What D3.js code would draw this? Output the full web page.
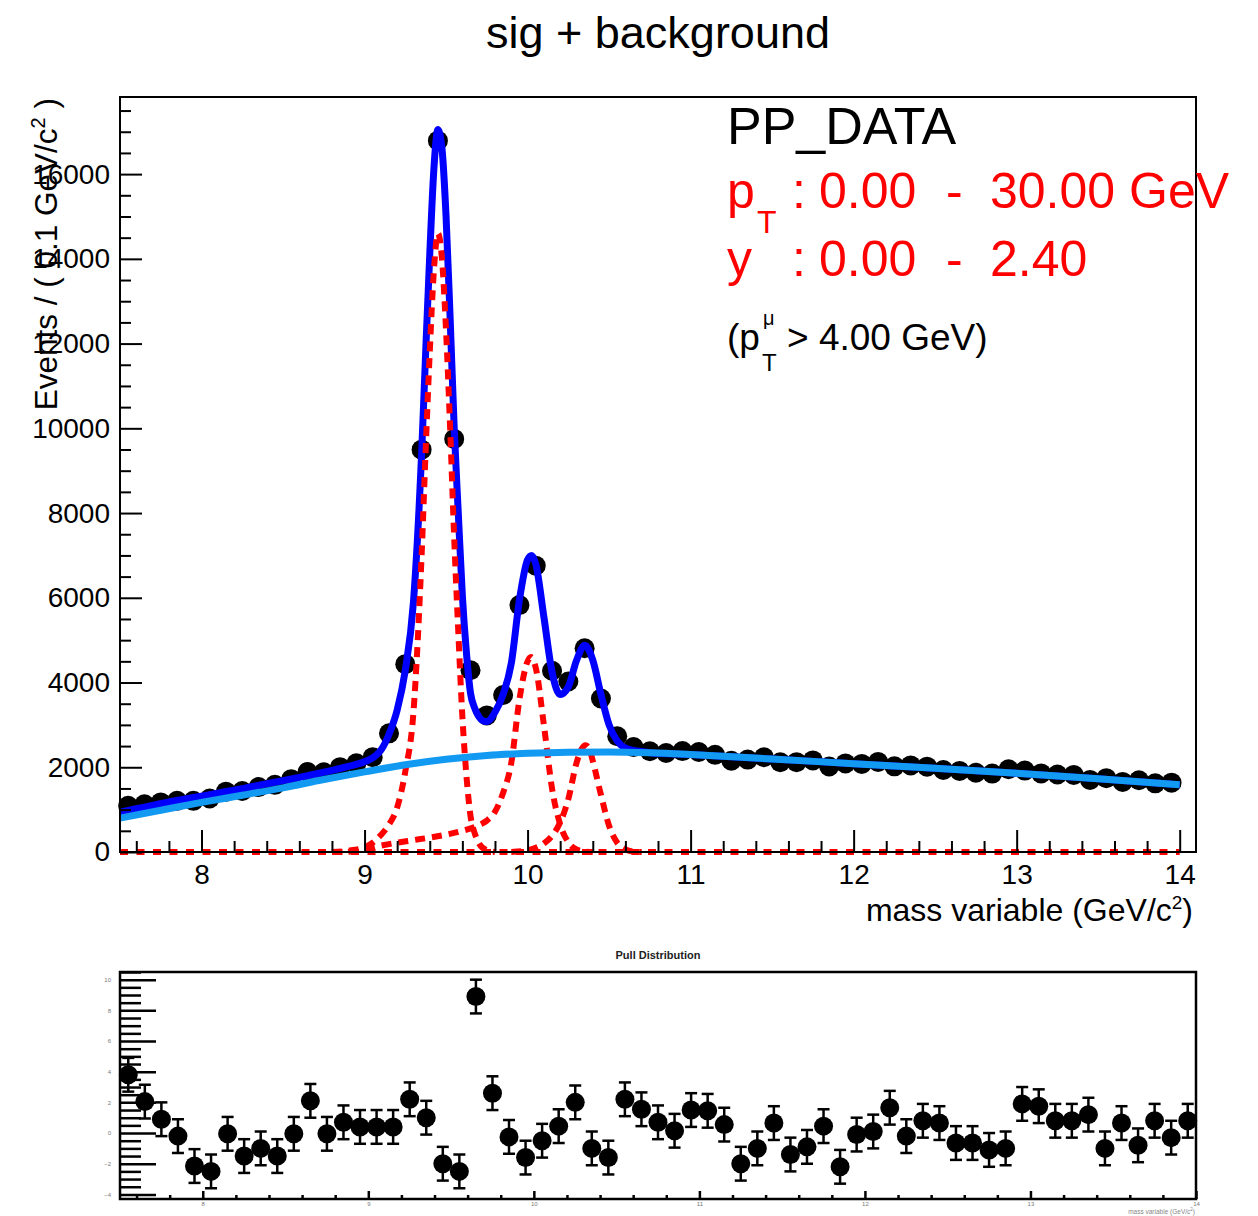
<!DOCTYPE html>
<html>
<head>
<meta charset="utf-8">
<script src="https://cdnjs.cloudflare.com/ajax/libs/d3/7.8.5/d3.min.js"></script>
<style>
  html, body { margin: 0; padding: 0; background: #fff; }
  svg { display: block; font-family: "Liberation Sans", Arial, Helvetica, sans-serif; }
</style>
</head>
<body>
<svg id="chart" width="1258" height="1216"></svg>
<script>
// ---- binned data: bin centres (GeV/c^2), event counts, fit pulls ----
const binCenters = [
  7.55, 7.65, 7.75, 7.85, 7.95, 8.05, 8.15, 8.25, 8.35, 8.45,
  8.55, 8.65, 8.75, 8.85, 8.95, 9.05, 9.15, 9.25, 9.35, 9.45,
  9.55, 9.65, 9.75, 9.85, 9.95, 10.05, 10.15, 10.25, 10.35, 10.45,
  10.55, 10.65, 10.75, 10.85, 10.95, 11.05, 11.15, 11.25, 11.35, 11.45,
  11.55, 11.65, 11.75, 11.85, 11.95, 12.05, 12.15, 12.25, 12.35, 12.45,
  12.55, 12.65, 12.75, 12.85, 12.95, 13.05, 13.15, 13.25, 13.35, 13.45,
  13.55, 13.65, 13.75, 13.85, 13.95
];
const eventCounts = [
  1090, 1127, 1170, 1208, 1208, 1263, 1424, 1439, 1532, 1586,
  1720, 1889, 1880, 2003, 2093, 2239, 2801, 4434, 9497, 16790,
  9750, 4290, 3224, 3705, 5827, 6759, 4279, 4025, 4810, 3622,
  2733, 2476, 2379, 2337, 2382, 2359, 2294, 2155, 2181, 2237,
  2119, 2120, 2161, 2017, 2091, 2079, 2127, 2021, 2044, 2015,
  1935, 1912, 1870, 1851, 1954, 1922, 1855, 1829, 1819, 1701,
  1743, 1655, 1693, 1620, 1636
];
const pulls = [
  3.8, 2.05, 0.9, -0.2, -2.15, -2.5, -0.05, -1.5, -1.0, -1.5,
  -0.05, 2.1, -0.05, 0.7, 0.4, 0.4, 0.4, 2.2, 1.0, -2.0,
  -2.5, 8.9, 2.6, -0.25, -1.6, -0.5, 0.45, 2.0, -1.0, -1.6,
  2.2, 1.55, 0.7, 0.15, 1.5, 1.45, 0.55, -2.0, -1.0, 0.65,
  -1.4, -0.9, 0.45, -2.2, -0.1, 0.1, 1.65, -0.2, 0.8, 0.65,
  -0.65, -0.65, -1.1, -1.0, 1.9, 1.75, 0.8, 0.8, 1.2, -1.0,
  0.65, -0.8, 0.8, -0.3, 0.8
];

// ---- fitted model curves (mass knots, events per bin) ----
const totalFitMass = [
  7.5, 7.6, 7.7, 7.8, 7.9, 8.0, 8.1, 8.2, 8.3, 8.4, 8.5, 8.6, 8.7, 8.8, 8.9,
  9.0, 9.05, 9.1, 9.15, 9.2, 9.25, 9.3, 9.35, 9.375, 9.4, 9.425, 9.45, 9.475,
  9.5, 9.525, 9.55, 9.575, 9.6, 9.625, 9.65, 9.675, 9.7, 9.725, 9.75, 9.8,
  9.85, 9.9, 9.95, 10.0, 10.025, 10.05, 10.1, 10.15, 10.2, 10.25, 10.3, 10.35,
  10.4, 10.45, 10.5, 10.55, 10.6, 10.65, 10.7, 10.75, 11.0, 11.5, 12.0, 12.5,
  13.0, 13.5, 14.0
];
const totalFitValue = [
  940, 1020, 1100, 1180, 1250, 1320, 1390, 1460, 1535, 1610, 1685, 1760, 1840, 1925, 2020,
  2130, 2220, 2400, 2780, 3350, 4290, 5900, 9400, 11800, 14100, 16100, 17050, 16600,
  15000, 12600, 10000, 8000, 6050, 4700, 3750, 3400, 3200, 3100, 3080, 3300,
  3720, 4450, 5950, 6900, 7000, 6800, 5550, 4250, 3720, 3900, 4520, 4880,
  4530, 3720, 3000, 2620, 2450, 2400, 2370, 2345, 2300, 2195, 2085, 1975,
  1860, 1730, 1590
];
const backgroundMass = [
  7.5, 7.75, 8.0, 8.25, 8.5, 8.75, 9.0, 9.25, 9.5, 9.75, 10.0, 10.25, 10.5,
  10.75, 11.0, 11.5, 12.0, 12.5, 13.0, 13.5, 14.0
];
const backgroundValue = [
  800, 985, 1170, 1340, 1515, 1710, 1890, 2060, 2190, 2280, 2330, 2355, 2360,
  2340, 2300, 2195, 2085, 1975, 1860, 1730, 1590
];
// signal shapes, over the mass span where each one is above zero
const ups1sMass = [
  8.8, 8.9, 9.0, 9.05, 9.1, 9.15, 9.2, 9.25, 9.3, 9.35, 9.375, 9.4, 9.425,
  9.45, 9.475, 9.5, 9.525, 9.55, 9.575, 9.6, 9.625, 9.65, 9.675, 9.7, 9.75, 9.8
];
const ups1sValue = [
  0, 30, 110, 220, 400, 650, 1050, 1900, 3300, 7000, 9500, 11800, 13700,
  14600, 14000, 12300, 10000, 7400, 5200, 3200, 1800, 850, 450, 220, 40, 0
];
const ups2sMass = [
  8.9, 9.0, 9.1, 9.2, 9.3, 9.4, 9.5, 9.6, 9.7, 9.75, 9.8, 9.85, 9.9, 9.95,
  10.0, 10.02, 10.05, 10.1, 10.15, 10.2, 10.25, 10.3, 10.35, 10.4
];
const ups2sValue = [
  0, 70, 150, 220, 280, 340, 410, 500, 630, 740, 950, 1400, 2100, 3600,
  4500, 4600, 4350, 3000, 1500, 650, 230, 60, 10, 0
];
const ups3sMass = [
  9.9, 10.0, 10.05, 10.1, 10.15, 10.2, 10.25, 10.3, 10.33, 10.355, 10.38,
  10.4, 10.45, 10.5, 10.55, 10.6, 10.65, 10.7
];
const ups3sValue = [
  0, 40, 100, 200, 380, 700, 1250, 2100, 2420, 2520, 2420,
  2150, 1350, 620, 220, 60, 10, 0
];
// where all signal shapes sit at zero
const signalFloorMass = [7.5, 14.0];
const signalFloorValue = [0, 0];

// ---- axis ticks ----
const massTicks = [8, 9, 10, 11, 12, 13, 14];
const eventTicks = [0, 2000, 4000, 6000, 8000, 10000, 12000, 14000, 16000];
const pullTicks = [-4, -2, 0, 2, 4, 6, 8, 10];

const FONT = '"Liberation Sans", Arial, Helvetica, sans-serif';
const svg = d3.select("#chart");

// ---- scales ----
const x = d3.scaleLinear().domain([7.5, 14.1]).range([120, 1196]);
const y = d3.scaleLinear().domain([0, 17820]).range([852, 97]);
const xp = d3.scaleLinear().domain([7.5, 14.0]).range([120, 1196]);
const yp = d3.scaleLinear().domain([-4.3, 10.5]).range([1199, 972]);

// title
svg.append("text")
  .attr("x", 658).attr("y", 48)
  .attr("text-anchor", "middle")
  .attr("font-size", 45)
  .text("sig + background");

// ================= main panel =================
const main = svg.append("g");

// data points (drawn first, curves go on top)
const pts = main.append("g");
binCenters.forEach((m, i) => {
  const n = eventCounts[i];
  const e = Math.sqrt(n);
  pts.append("line")
    .attr("x1", x(m)).attr("x2", x(m))
    .attr("y1", y(n - e)).attr("y2", y(n + e))
    .attr("stroke", "#000").attr("stroke-width", 2);
  pts.append("line")
    .attr("x1", x(m - 0.05)).attr("x2", x(m + 0.05))
    .attr("y1", y(n)).attr("y2", y(n))
    .attr("stroke", "#000").attr("stroke-width", 2);
  pts.append("circle")
    .attr("cx", x(m)).attr("cy", y(n)).attr("r", 10)
    .attr("fill", "#000");
});

function curve(ms, vs) {
  return d3.line()
    .x((d, i) => x(ms[i]))
    .y(d => y(d))
    .curve(d3.curveMonotoneX)(vs);
}

// total fit
main.append("path")
  .attr("d", curve(totalFitMass, totalFitValue))
  .attr("fill", "none").attr("stroke", "#0000ff")
  .attr("stroke-width", 7).attr("stroke-linejoin", "round");

// signal components
main.append("path")
  .attr("d", curve(signalFloorMass, signalFloorValue))
  .attr("fill", "none").attr("stroke", "#ff0000")
  .attr("stroke-width", 6).attr("stroke-dasharray", "8,8.5");
[[ups1sMass, ups1sValue], [ups2sMass, ups2sValue], [ups3sMass, ups3sValue]].forEach(([ms, vs]) => {
  main.append("path")
    .attr("d", curve(ms, vs))
    .attr("fill", "none").attr("stroke", "#ff0000")
    .attr("stroke-width", 6).attr("stroke-dasharray", "10,7");
});

// background
main.append("path")
  .attr("d", curve(backgroundMass, backgroundValue))
  .attr("fill", "none").attr("stroke", "#1299f2")
  .attr("stroke-width", 7).attr("stroke-linejoin", "round");

// frame
main.append("rect")
  .attr("x", 120).attr("y", 97).attr("width", 1076).attr("height", 755)
  .attr("fill", "none").attr("stroke", "#000").attr("stroke-width", 2);

// x axis
const xMinor = d3.range(38, 71).map(k => k / 5).filter(v => v >= 7.5 && v <= 14.1 && !massTicks.includes(v));
main.append("g").attr("transform", "translate(0,852)")
  .call(d3.axisBottom(x).tickValues(xMinor).tickSize(-11).tickFormat(""))
  .call(g => g.select(".domain").remove());
const xAx = main.append("g").attr("transform", "translate(0,852)")
  .call(d3.axisBottom(x).tickValues(massTicks).tickSize(-22).tickPadding(12).tickFormat(d3.format("d")));
xAx.select(".domain").remove();
xAx.selectAll("text").attr("font-size", 28).attr("font-family", FONT).attr("fill", "#000");
main.selectAll(".tick line").attr("stroke", "#000").attr("stroke-width", 2);

// y axis
const yMinor = d3.range(0, 17820, 500).filter(v => v % 2000 !== 0);
main.append("g").attr("transform", "translate(120,0)")
  .call(d3.axisLeft(y).tickValues(yMinor).tickSize(-11).tickFormat(""))
  .call(g => g.select(".domain").remove());
const yAx = main.append("g").attr("transform", "translate(120,0)")
  .call(d3.axisLeft(y).tickValues(eventTicks).tickSize(-22).tickPadding(10).tickFormat(d3.format("d")));
yAx.select(".domain").remove();
yAx.selectAll("text").attr("font-size", 28).attr("font-family", FONT).attr("fill", "#000");
main.selectAll(".tick line").attr("stroke", "#000").attr("stroke-width", 2);

// axis titles
const xt = main.append("text")
  .attr("x", 1193).attr("y", 921).attr("text-anchor", "end")
  .attr("font-size", 32);
xt.append("tspan").text("mass variable (GeV/c");
xt.append("tspan").attr("dy", -12).attr("font-size", 19).text("2");
xt.append("tspan").attr("dy", 12).text(")");

const yt = main.append("text")
  .attr("transform", "translate(57,98) rotate(-90)")
  .attr("text-anchor", "end")
  .attr("font-size", 31.5);
yt.append("tspan").text("Events / ( 0.1 GeV/c");
yt.append("tspan").attr("dy", -12).attr("font-size", 20).text("2");
yt.append("tspan").attr("dy", 12).text(" )");

// labels in the frame
main.append("text").attr("x", 727).attr("y", 144).attr("font-size", 52).text("PP_DATA");

const l1 = main.append("g").attr("fill", "#ff0000").attr("font-size", 50);
l1.append("text").attr("x", 727).attr("y", 208).text("p");
l1.append("text").attr("x", 757).attr("y", 233).attr("font-size", 32).text("T");
l1.append("text").attr("x", 792).attr("y", 208).text(":");
l1.append("text").attr("x", 819).attr("y", 208).text("0.00");
l1.append("text").attr("x", 946).attr("y", 208).text("-");
l1.append("text").attr("x", 990).attr("y", 208).text("30.00");
l1.append("text").attr("x", 1129).attr("y", 208).text("GeV");

const l2 = main.append("g").attr("fill", "#ff0000").attr("font-size", 50);
l2.append("text").attr("x", 727).attr("y", 276).text("y");
l2.append("text").attr("x", 792).attr("y", 276).text(":");
l2.append("text").attr("x", 819).attr("y", 276).text("0.00");
l2.append("text").attr("x", 946).attr("y", 276).text("-");
l2.append("text").attr("x", 990).attr("y", 276).text("2.40");

const l3 = main.append("g").attr("fill", "#000").attr("font-size", 37);
l3.append("text").attr("x", 727).attr("y", 350).text("(p");
l3.append("text").attr("x", 763).attr("y", 325).attr("font-size", 20).text("\u03bc");
l3.append("text").attr("x", 762).attr("y", 371).attr("font-size", 24).text("T");
l3.append("text").attr("x", 787).attr("y", 350).text("> 4.00 GeV)");

// ================= pull panel =================
const pull = svg.append("g");

pull.append("text")
  .attr("x", 658).attr("y", 959).attr("text-anchor", "middle")
  .attr("font-size", 11).attr("font-weight", "bold").attr("fill", "#222")
  .text("Pull Distribution");

binCenters.forEach((m, i) => {
  const p = pulls[i];
  const cx = xp(m);
  pull.append("line").attr("x1", cx).attr("x2", cx)
    .attr("y1", yp(p - 1.1)).attr("y2", yp(p + 1.1))
    .attr("stroke", "#000").attr("stroke-width", 2.5);
  [p - 1.1, p + 1.1].forEach(v => {
    pull.append("line").attr("x1", cx - 6).attr("x2", cx + 6)
      .attr("y1", yp(v)).attr("y2", yp(v))
      .attr("stroke", "#000").attr("stroke-width", 2.5);
  });
  pull.append("circle").attr("cx", cx).attr("cy", yp(p)).attr("r", 9.5).attr("fill", "#000");
});

pull.append("rect")
  .attr("x", 120).attr("y", 972).attr("width", 1076).attr("height", 227)
  .attr("fill", "none").attr("stroke", "#000").attr("stroke-width", 2.5);

const pxMinor = d3.range(38, 71).map(k => k / 5).filter(v => v >= 7.5 && v <= 14.0 && !massTicks.includes(v));
pull.append("g").attr("transform", "translate(0,1199)")
  .call(d3.axisBottom(xp).tickValues(pxMinor).tickSize(-4).tickFormat(""))
  .call(g => g.select(".domain").remove());
const pxAx = pull.append("g").attr("transform", "translate(0,1199)")
  .call(d3.axisBottom(xp).tickValues(massTicks).tickSize(-8).tickPadding(3).tickFormat(d3.format("d")));
pxAx.select(".domain").remove();
pxAx.selectAll("text").attr("font-size", 6).attr("font-family", FONT).attr("fill", "#777");

const pyMinor = d3.range(-8, 22).map(k => k / 2).filter(v => v >= -4.3 && v <= 10.5 && !pullTicks.includes(v));
pull.append("g").attr("transform", "translate(120,0)")
  .call(d3.axisLeft(yp).tickValues(pyMinor).tickSize(-21).tickFormat(""))
  .call(g => g.select(".domain").remove());
const pyAx = pull.append("g").attr("transform", "translate(120,0)")
  .call(d3.axisLeft(yp).tickValues(pullTicks).tickSize(-36).tickPadding(9).tickFormat(d3.format("d")));
pyAx.select(".domain").remove();
pyAx.selectAll("text").attr("font-size", 6).attr("font-family", FONT).attr("fill", "#777");
pull.selectAll(".tick line").attr("stroke", "#000").attr("stroke-width", 2.5);

const pxt = pull.append("text")
  .attr("x", 1195).attr("y", 1214).attr("text-anchor", "end")
  .attr("font-size", 6.5).attr("fill", "#888");
pxt.append("tspan").text("mass variable (GeV/c");
pxt.append("tspan").attr("dy", -3).attr("font-size", 4.5).text("2");
pxt.append("tspan").attr("dy", 3).text(")");
</script>
</body>
</html>
